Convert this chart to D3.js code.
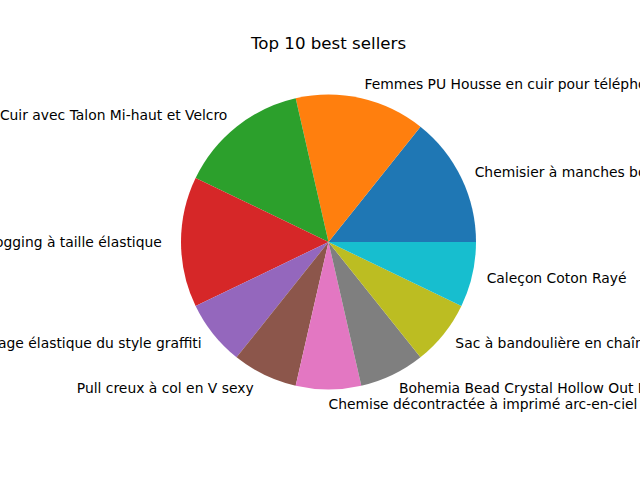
<!DOCTYPE html>
<html><head><meta charset="utf-8">
<script src="https://cdn.jsdelivr.net/npm/d3@7"></script>
<style>body{margin:0;background:#fff}svg{display:block}text{white-space:pre}</style>
</head><body>
<svg id="chart" width="640" height="480"></svg>
<script>
const title = "Top 10 best sellers";
const categories = [
  "Chemisier à manches bouffantes",
  "Femmes PU Housse en cuir pour téléphone",
  "Sandales en Cuir avec Talon Mi-haut et Velcro",
  "Pantalon de jogging à taille élastique ",
  "Short à cordage élastique du style graffiti",
  "Pull creux à col en V sexy ",
  "Chemise décontractée à imprimé arc-en-ciel à manches courtes",
  "Bohemia Bead Crystal Hollow Out Boucles d'oreilles",
  "Sac à bandoulière en chaîne",
  "Caleçon Coton Rayé"
];
const values = [2, 2, 2, 2, 1, 1, 1, 1, 1, 1];
const colors = ["#1f77b4","#ff7f0e","#2ca02c","#d62728","#9467bd","#8c564b","#e377c2","#7f7f7f","#bcbd22","#17becf"];

const svg = d3.select("#chart");
const cx = 328.5, cy = 242, R = 147.5;
const font = "DejaVu Sans, sans-serif";

svg.append("text").attr("x", cx).attr("y", 43)
  .attr("text-anchor", "middle").attr("dominant-baseline", "central")
  .attr("font-family", font).attr("font-size", "16.67px").attr("fill", "#000")
  .text(title);

// matplotlib-style: start at east, counter-clockwise
const pie = d3.pie().sort(null).value(d => d)
  .startAngle(Math.PI / 2).endAngle(Math.PI / 2 - 2 * Math.PI);
const arcs = pie(values);
const arc = d3.arc().innerRadius(0).outerRadius(R);

const g = svg.append("g").attr("transform", `translate(${cx},${cy})`);
g.selectAll("path").data(arcs).enter().append("path")
  .attr("d", arc).attr("fill", (d, i) => colors[i]);

const angleScale = d3.scaleLinear().domain([0, d3.sum(values)]).range([0, 2 * Math.PI]);
let cum = 0;
values.forEach((v, i) => {
  const mid = angleScale(cum + v / 2);
  cum += v;
  const x = 1.1 * R * Math.cos(mid);
  const y = -1.1 * R * Math.sin(mid);
  g.append("text").attr("x", x).attr("y", y)
    .attr("xml:space", "preserve")
    .attr("text-anchor", x > -1e-6 ? "start" : "end")
    .attr("dominant-baseline", "central")
    .attr("font-family", font).attr("font-size", "13.89px").attr("fill", "#000")
    .text(categories[i]);
});
</script>
</body></html>
